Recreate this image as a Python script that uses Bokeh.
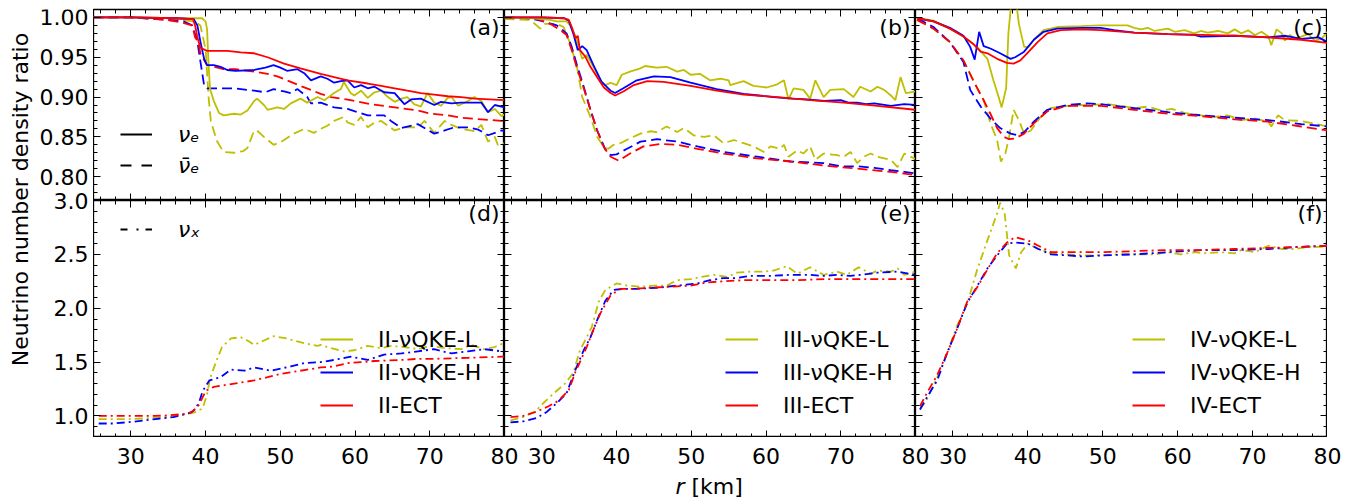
import math
from bokeh.plotting import figure
from bokeh.models import (Range1d, LinearAxis, FixedTicker, PrintfTickFormatter,
                          Legend, LegendItem, Label)
from bokeh.layouts import row, column
from bokeh.embed import file_html
from bokeh.resources import INLINE

FONT = "DejaVu Sans"
FS = "22px"
C_L, C_H, C_E = "#bfbf00", "#0000ff", "#ff0000"

# ---------------- axes / ticks ----------------
X_RANGE = (25, 80)
TOP_Y = (0.77, 1.01)
BOT_Y = (0.8, 3.0)
X_MAJOR = [30, 40, 50, 60, 70, 80]
X_MINOR = [26 + 2 * i for i in range(28)]
TOP_MAJOR = [0.80, 0.85, 0.90, 0.95, 1.00]
TOP_MINOR = [round(0.77 + 0.01 * i, 2) for i in range(25)]
BOT_MAJOR = [1.0, 1.5, 2.0, 2.5, 3.0]
BOT_MINOR = [round(0.8 + 0.1 * i, 1) for i in range(23)]

MODELS_II = ["II-\u03bdQKE-L", "II-\u03bdQKE-H", "II-ECT"]
MODELS_III = ["III-\u03bdQKE-L", "III-\u03bdQKE-H", "III-ECT"]
MODELS_IV = ["IV-\u03bdQKE-L", "IV-\u03bdQKE-H", "IV-ECT"]
PANEL_TAGS = ["(a)", "(b)", "(c)", "(d)", "(e)", "(f)"]

# ---------------- data: (r [km], ratio) ----------------
# panel (a): II, nu_e (solid) and anti-nu_e (dashed)
a_L_nue = [(25,1.0),(30,1.0),(36,0.999),(39.5,0.999),(40.0,0.995),(40.2,0.985),(40.4,0.94),(40.6,0.91),(41.1,0.895),(41.8,0.88),(42.4,0.877),(43.8,0.879),(44.7,0.878),(45.6,0.883),(46.5,0.895),(46.9,0.898),(47.8,0.89),(48.3,0.884),(49.6,0.887),(50.5,0.885),(51.4,0.892),(52.7,0.898),(53.6,0.893),(55.0,0.9),(55.9,0.896),(57.2,0.905),(58.1,0.91),(58.5,0.919),(59.4,0.905),(59.9,0.902),(60.8,0.908),(61.7,0.899),(62.6,0.906),(63.5,0.908),(64.4,0.9),(65.3,0.894),(66.2,0.898),(67.0,0.9),(67.9,0.891),(68.8,0.888),(69.7,0.905),(70.6,0.893),(71.5,0.889),(72.4,0.899),(72.9,0.9),(73.8,0.889),(75.1,0.895),(76.0,0.9),(76.9,0.895),(77.8,0.881),(78.7,0.885),(79.6,0.876),(80,0.878)]
a_H_nue = [(25,1.0),(30,1.0),(36,0.999),(38.4,0.998),(38.9,0.99),(39.3,0.97),(39.8,0.948),(40.2,0.94),(41.1,0.94),(42.0,0.938),(42.9,0.934),(44.0,0.933),(46.5,0.934),(48.0,0.937),(49.1,0.94),(50.0,0.937),(50.9,0.933),(52.3,0.935),(53.2,0.93),(54.1,0.921),(55.4,0.926),(56.3,0.923),(57.2,0.918),(58.1,0.92),(59.0,0.921),(59.9,0.912),(60.8,0.915),(61.7,0.911),(62.6,0.913),(63.9,0.906),(65.3,0.905),(66.6,0.891),(67.5,0.897),(68.8,0.898),(70.6,0.89),(71.5,0.894),(72.9,0.892),(74.2,0.893),(76.9,0.893),(77.8,0.881),(78.7,0.89),(79.6,0.888),(80,0.887)]
a_E_nue = [(25,1.0),(30,1.0),(36,0.999),(38.3,0.998),(38.6,0.99),(38.9,0.975),(39.3,0.962),(40.2,0.958),(42.9,0.958),(44.7,0.956),(46.5,0.955),(48.3,0.95),(50.5,0.942),(52.7,0.936),(55.4,0.929),(57.2,0.925),(59.0,0.921),(61.7,0.917),(63.5,0.914),(65.3,0.911),(67.0,0.908),(68.8,0.905),(70.6,0.903),(72.4,0.901),(74.2,0.9),(76.0,0.898),(78.0,0.897),(80,0.896)]
a_L_anue = [(25,1.0),(30,1.0),(36,0.998),(38.5,0.995),(39.3,0.99),(40.0,0.96),(40.4,0.9),(40.7,0.87),(41.5,0.845),(42.4,0.831),(43.8,0.83),(45.0,0.832),(45.6,0.836),(46.5,0.858),(47.0,0.857),(47.8,0.85),(49.1,0.84),(50.0,0.843),(50.5,0.846),(51.8,0.854),(53.2,0.86),(54.5,0.855),(55.4,0.86),(56.3,0.864),(57.2,0.87),(58.5,0.875),(59.0,0.868),(59.9,0.865),(60.8,0.875),(61.7,0.862),(62.6,0.868),(63.5,0.87),(65.3,0.858),(66.6,0.862),(68.4,0.862),(69.3,0.87),(70.6,0.855),(72.0,0.87),(72.9,0.865),(74.2,0.86),(76.0,0.857),(76.9,0.865),(77.8,0.844),(78.7,0.85),(79.1,0.84),(80,0.842)]
a_H_anue = [(25,1.0),(30,1.0),(34.8,0.997),(37.1,0.995),(38.2,0.99),(38.9,0.97),(39.3,0.945),(39.8,0.915),(40.2,0.911),(41.1,0.911),(43.8,0.911),(46.5,0.908),(48.0,0.906),(49.1,0.91),(50.5,0.907),(51.4,0.905),(52.3,0.91),(53.6,0.9),(54.1,0.892),(55.4,0.893),(57.2,0.887),(59.0,0.885),(60.0,0.882),(61.7,0.877),(63.9,0.877),(64.8,0.87),(66.2,0.861),(68.4,0.866),(70.6,0.854),(72.0,0.858),(73.3,0.862),(75.1,0.862),(76.5,0.859),(77.8,0.852),(79.6,0.858),(80,0.857)]
a_E_anue = [(25,1.0),(30,1.0),(34.8,0.997),(37.1,0.993),(38.2,0.99),(38.6,0.975),(39.0,0.97),(39.3,0.955),(40.2,0.94),(41.1,0.938),(42.4,0.935),(44.0,0.935),(46.5,0.932),(48.3,0.929),(49.6,0.926),(51.4,0.919),(52.7,0.914),(54.1,0.909),(55.4,0.904),(56.8,0.9),(59.4,0.896),(62.1,0.891),(64.5,0.888),(66.2,0.886),(68.4,0.883),(70.2,0.879),(72.4,0.877),(74.2,0.874),(76.9,0.872),(79.6,0.87),(80,0.87)]

# panel (b): III
b_L_nue = [(25,1.0),(29.0,0.999),(31.1,0.997),(32.0,0.995),(33.3,0.995),(33.8,0.99),(34.5,0.976),(35.4,0.948),(36.0,0.953),(36.9,0.938),(37.8,0.921),(38.5,0.915),(39.2,0.918),(40.0,0.915),(40.7,0.928),(41.8,0.932),(43.2,0.936),(43.8,0.939),(45.4,0.937),(46.7,0.938),(48.1,0.932),(49.0,0.934),(49.9,0.928),(51.2,0.929),(52.5,0.921),(53.9,0.923),(55.0,0.921),(55.2,0.915),(57.0,0.92),(58.3,0.914),(60.1,0.912),(61.5,0.916),(62.4,0.921),(63.0,0.897),(63.7,0.911),(65.0,0.909),(65.9,0.898),(66.6,0.921),(67.7,0.9),(68.6,0.909),(70.4,0.91),(71.7,0.9),(72.6,0.913),(74.0,0.907),(74.9,0.913),(75.8,0.909),(76.7,0.902),(77.3,0.896),(78.0,0.925),(78.7,0.905),(80,0.907)]
b_H_nue = [(25,1.0),(30,1.0),(33.0,0.999),(33.6,0.996),(34.2,0.98),(34.8,0.959),(35.4,0.964),(36.0,0.959),(36.9,0.94),(38.0,0.919),(39.2,0.908),(39.8,0.905),(40.9,0.911),(42.7,0.921),(45.0,0.926),(47.2,0.925),(49.9,0.918),(53.4,0.91),(57.0,0.904),(61.0,0.9),(63.5,0.898),(65.5,0.897),(67.8,0.895),(70.0,0.896),(71.0,0.893),(72.2,0.893),(73.4,0.891),(74.5,0.892),(76.7,0.889),(78.5,0.891),(80,0.89)]
b_E_nue = [(25,1.0),(30,1.0),(33.0,0.999),(33.6,0.997),(34.0,0.988),(34.5,0.974),(34.8,0.977),(35.1,0.959),(35.8,0.951),(36.5,0.938),(37.4,0.925),(38.3,0.912),(39.2,0.905),(39.8,0.902),(40.9,0.907),(42.3,0.915),(44.1,0.92),(46.3,0.919),(49.9,0.914),(53.4,0.908),(57.0,0.903),(61.5,0.9),(65.9,0.896),(70.4,0.893),(74.9,0.889),(80,0.884)]
b_L_anue = [(25,0.998),(28.4,0.997),(29.8,0.986),(30.4,0.992),(32.0,0.992),(32.9,0.988),(33.8,0.967),(34.7,0.938),(35.4,0.9),(36.5,0.875),(37.4,0.85),(38.3,0.837),(38.9,0.835),(39.6,0.84),(40.5,0.842),(41.8,0.848),(43.2,0.854),(44.5,0.857),(45.4,0.856),(46.7,0.863),(48.1,0.856),(49.0,0.861),(50.3,0.852),(51.7,0.85),(53.0,0.852),(54.3,0.842),(55.7,0.846),(57.0,0.842),(58.3,0.838),(59.7,0.831),(60.6,0.838),(61.9,0.835),(62.4,0.84),(63.0,0.825),(64.2,0.833),(65.0,0.829),(65.9,0.838),(66.6,0.821),(67.7,0.829),(69.5,0.827),(70.4,0.825),(71.3,0.831),(72.2,0.817),(73.1,0.825),(74.0,0.829),(74.9,0.825),(76.7,0.821),(77.6,0.812),(78.5,0.829),(80,0.822)]
b_H_anue = [(25,1.0),(28.4,0.999),(29.8,0.996),(32.0,0.99),(33.3,0.98),(34.0,0.963),(34.7,0.94),(35.6,0.913),(36.5,0.884),(37.4,0.858),(38.5,0.834),(39.2,0.827),(40.0,0.828),(41.4,0.835),(43.2,0.844),(45.4,0.847),(48.1,0.844),(50.8,0.838),(54.3,0.831),(58.8,0.825),(63.3,0.819),(67.7,0.817),(70.0,0.813),(72.2,0.813),(74.5,0.811),(76.7,0.808),(78.5,0.806),(80,0.804)]
b_E_anue = [(25,1.0),(28.4,0.999),(29.8,0.997),(31.1,0.992),(32.5,0.984),(33.3,0.978),(34.0,0.959),(34.7,0.936),(35.6,0.911),(36.5,0.884),(37.4,0.858),(38.3,0.837),(39.2,0.825),(40.3,0.82),(41.8,0.829),(43.6,0.838),(45.8,0.841),(48.1,0.84),(50.8,0.835),(54.3,0.829),(58.8,0.823),(63.3,0.819),(67.7,0.814),(72.2,0.81),(76.7,0.806),(80,0.802)]

# panel (c): IV
c_L_nue = [(25.2,0.999),(27.4,0.996),(29.6,0.986),(31.4,0.976),(33.2,0.963),(34.6,0.948),(35.4,0.921),(36.1,0.9),(36.5,0.887),(37.1,0.911),(37.4,0.98),(37.8,1.02),(38.3,1.03),(38.8,0.992),(39.5,0.963),(40.1,0.963),(40.8,0.972),(42.1,0.984),(43.9,0.988),(47.1,0.989),(49.7,0.99),(53.3,0.99),(54.2,0.987),(55.1,0.985),(56.0,0.987),(56.9,0.983),(58.7,0.986),(59.6,0.982),(60.9,0.984),(62.2,0.98),(63.1,0.983),(64.0,0.981),(65.4,0.983),(66.7,0.98),(67.6,0.985),(68.5,0.98),(69.4,0.984),(70.3,0.978),(71.2,0.982),(72.1,0.976),(72.5,0.965),(73.2,0.985),(73.9,0.98),(74.3,0.971),(75.0,0.978),(75.6,0.974),(76.5,0.976),(77.4,0.979),(78.3,0.971),(79.2,0.973),(80,0.982)]
c_H_nue = [(25.2,0.999),(27.4,0.995),(29.6,0.987),(31.4,0.977),(32.3,0.963),(32.9,0.947),(33.5,0.982),(34.1,0.964),(35.0,0.961),(36.3,0.955),(37.7,0.948),(38.3,0.95),(39.5,0.957),(40.8,0.972),(42.1,0.982),(43.9,0.986),(47.1,0.987),(49.7,0.987),(51.5,0.984),(54.2,0.981),(58.7,0.979),(62.2,0.978),(63.1,0.976),(67.6,0.977),(72.1,0.975),(74.4,0.977),(76.5,0.973),(78.8,0.975),(80,0.969)]
c_E_nue = [(25.2,0.999),(27.4,0.995),(29.6,0.986),(31.4,0.976),(32.8,0.966),(33.7,0.957),(34.6,0.955),(35.9,0.948),(37.2,0.943),(38.1,0.942),(39.0,0.946),(39.9,0.955),(41.3,0.969),(42.6,0.98),(44.4,0.984),(47.1,0.985),(49.7,0.984),(54.2,0.981),(58.7,0.979),(63.1,0.978),(67.6,0.977),(72.1,0.975),(76.5,0.972),(80,0.968)]
c_L_anue = [(25.2,0.997),(27.4,0.986),(29.6,0.969),(31.4,0.946),(32.8,0.919),(34.1,0.896),(35.0,0.867),(35.9,0.846),(36.4,0.819),(37.0,0.829),(37.5,0.85),(38.1,0.884),(38.8,0.871),(39.5,0.854),(40.4,0.858),(41.7,0.875),(43.0,0.886),(45.3,0.889),(47.9,0.89),(50.6,0.891),(52.4,0.889),(54.2,0.886),(56.0,0.888),(57.8,0.883),(59.2,0.885),(60.9,0.88),(63.1,0.877),(64.9,0.875),(66.7,0.877),(68.5,0.871),(70.3,0.873),(72.1,0.869),(72.5,0.863),(73.4,0.877),(74.3,0.871),(76.5,0.87),(80,0.863)]
c_H_anue = [(25.2,0.999),(27.4,0.988),(29.6,0.969),(31.4,0.944),(32.3,0.909),(33.7,0.888),(35.0,0.873),(36.3,0.861),(37.7,0.854),(38.6,0.852),(39.5,0.856),(40.8,0.869),(42.6,0.884),(45.3,0.89),(47.9,0.892),(49.7,0.891),(54.2,0.886),(58.7,0.881),(63.1,0.877),(67.6,0.874),(72.1,0.871),(76.5,0.866),(80,0.863)]
c_E_anue = [(25.2,0.997),(27.4,0.986),(29.6,0.969),(31.4,0.946),(32.8,0.919),(34.1,0.896),(35.0,0.879),(35.9,0.861),(36.8,0.85),(37.5,0.847),(38.3,0.848),(39.5,0.854),(40.8,0.867),(42.6,0.882),(45.3,0.889),(47.9,0.889),(49.7,0.889),(54.2,0.884),(58.7,0.879),(63.1,0.876),(67.6,0.872),(72.1,0.869),(76.5,0.863),(80,0.858)]

# panels (d)-(f): nu_x (dash-dot)
d_L_nux = [(25.7,0.97),(30,0.97),(35,0.99),(38.4,1.03),(39.6,1.07),(40.2,1.2),(40.6,1.35),(41.5,1.52),(42.2,1.64),(43.4,1.72),(44.7,1.73),(45.6,1.7),(46.5,1.66),(47.8,1.7),(49.1,1.74),(50.9,1.72),(51.8,1.7),(53.6,1.67),(55.0,1.65),(55.4,1.66),(56.8,1.63),(58.5,1.6),(59.9,1.61),(61.7,1.65),(63.5,1.63),(64.8,1.65),(66.6,1.64),(68.4,1.62),(70.0,1.65),(72.0,1.63),(74.2,1.62),(75.5,1.66),(77.3,1.62),(78.7,1.64),(80,1.68)]
d_H_nux = [(25.7,0.93),(27.7,0.93),(30.4,0.947),(33.0,0.969),(35.7,0.99),(38.0,1.03),(38.4,1.05),(39.1,1.12),(39.6,1.23),(40.5,1.33),(42.0,1.36),(43.4,1.43),(45.2,1.42),(46.5,1.45),(48.7,1.42),(51.4,1.46),(53.2,1.49),(55.4,1.5),(57.2,1.52),(59.4,1.55),(61.7,1.52),(63.9,1.57),(66.2,1.58),(68.4,1.6),(70.6,1.62),(72.9,1.58),(75.1,1.6),(77.3,1.62),(79.6,1.6),(80,1.6)]
d_E_nux = [(25.7,1.0),(27.7,1.0),(30,1.0),(33.2,1.0),(35.0,1.005),(37.5,1.02),(38.2,1.04),(38.9,1.08),(39.3,1.13),(39.8,1.2),(40.2,1.24),(41.1,1.27),(42.9,1.29),(44.7,1.31),(46.5,1.33),(48.3,1.36),(50.0,1.39),(51.8,1.41),(53.6,1.43),(55.4,1.45),(57.2,1.46),(59.0,1.49),(60.8,1.5),(62.6,1.51),(66.2,1.52),(68.4,1.53),(70.6,1.53),(75.1,1.54),(79.6,1.55),(80,1.55)]
e_L_nux = [(25.8,0.96),(27.5,0.99),(29.1,1.04),(30.2,1.12),(31.6,1.21),(33.1,1.3),(34.2,1.4),(35.1,1.61),(36.0,1.73),(36.7,1.83),(37.6,2.06),(38.5,2.17),(40.0,2.23),(41.4,2.21),(43.2,2.2),(45.0,2.21),(46.7,2.21),(48.1,2.26),(49.9,2.27),(51.2,2.29),(53.0,2.31),(54.8,2.29),(56.1,2.33),(57.9,2.34),(59.7,2.34),(61.0,2.35),(62.8,2.39),(64.2,2.32),(65.9,2.38),(67.7,2.31),(69.5,2.34),(70.8,2.31),(72.4,2.38),(74.0,2.32),(74.9,2.35),(76.7,2.34),(77.6,2.37),(78.5,2.31),(80,2.34)]
e_H_nux = [(25.8,0.94),(27.5,0.95),(29.3,0.98),(30.7,1.04),(32.0,1.12),(33.3,1.21),(34.5,1.43),(35.6,1.61),(36.5,1.73),(37.4,1.89),(38.5,2.07),(39.6,2.17),(40.9,2.18),(42.7,2.18),(45.4,2.19),(48.1,2.21),(50.8,2.23),(52.5,2.26),(54.3,2.28),(56.1,2.28),(57.9,2.3),(60.6,2.3),(63.3,2.31),(65.9,2.31),(67.7,2.3),(69.5,2.31),(71.3,2.3),(72.6,2.31),(74.9,2.33),(77.6,2.34),(80,2.31)]
e_E_nux = [(25.8,0.99),(27.5,1.0),(29.3,1.04),(30.9,1.09),(32.2,1.14),(33.6,1.24),(34.5,1.41),(36.0,1.64),(36.9,1.8),(37.8,1.95),(39.2,2.12),(40.5,2.18),(42.3,2.18),(44.5,2.19),(47.2,2.2),(49.9,2.21),(52.1,2.24),(54.3,2.25),(57.0,2.26),(60.6,2.26),(64.2,2.26),(67.7,2.27),(72.2,2.27),(76.7,2.27),(80,2.27)]
f_L_nux = [(25.6,1.06),(26.5,1.15),(27.9,1.36),(29.2,1.58),(30.5,1.83),(31.9,2.04),(33.2,2.35),(34.6,2.63),(35.9,2.88),(36.3,2.98),(36.9,2.88),(37.5,2.49),(38.4,2.37),(39.1,2.52),(40.0,2.6),(41.4,2.55),(43.1,2.51),(45.3,2.5),(47.5,2.49),(49.7,2.49),(52.0,2.5),(54.2,2.5),(56.9,2.5),(58.7,2.52),(60.4,2.5),(62.2,2.52),(63.5,2.51),(65.8,2.52),(67.6,2.51),(68.5,2.54),(70.3,2.52),(72.1,2.58),(73.9,2.55),(75.7,2.55),(77.4,2.57),(79.2,2.57),(80,2.58)]
f_H_nux = [(25.6,1.06),(26.5,1.17),(27.9,1.33),(29.2,1.58),(30.5,1.8),(31.9,2.05),(33.2,2.2),(34.6,2.37),(35.9,2.49),(37.2,2.6),(38.3,2.61),(40.0,2.6),(41.4,2.55),(43.1,2.5),(45.3,2.49),(47.5,2.48),(49.7,2.49),(54.2,2.5),(58.7,2.52),(63.1,2.54),(67.6,2.54),(72.1,2.55),(76.5,2.57),(80,2.58)]
f_E_nux = [(25.6,1.09),(26.5,1.21),(27.9,1.38),(29.2,1.58),(30.5,1.8),(31.9,2.06),(33.2,2.19),(34.6,2.36),(35.9,2.51),(37.2,2.61),(38.3,2.66),(40.0,2.63),(41.4,2.58),(43.1,2.52),(45.3,2.52),(47.5,2.52),(49.7,2.52),(54.2,2.53),(58.7,2.54),(63.1,2.54),(67.6,2.55),(72.1,2.56),(76.5,2.57),(80,2.58)]

# ---------------- layout sizes ----------------
PW = [411, 411, 412]          # frame widths of the three columns
TOP_H, BOT_H = 191, 237       # frame heights of the two rows
TOP_PAD = 9
LEFT_W, STRIP_H, RIGHT_PAD = 93, 62, 24
LW = 1.8
DASH, DASHDOT = "10 5", "8 4 2 4"
NAN = [float("nan")]


def xs(pts):
    return [q[0] for q in pts]


def ys(pts):
    return [q[1] for q in pts]


def tick_style(ax):
    ax.axis_line_color = None
    ax.major_tick_in = 7
    ax.major_tick_out = 0
    ax.minor_tick_in = 4
    ax.minor_tick_out = 0
    ax.major_tick_line_color = "black"
    ax.minor_tick_line_color = "black"
    ax.major_tick_line_width = 1
    ax.minor_tick_line_width = 1
    ax.major_label_text_color = None


def panel(fw, fh, yr, ymaj, ymin, top_border):
    p = figure(x_range=Range1d(*X_RANGE), y_range=Range1d(*yr),
               frame_width=fw, frame_height=fh,
               min_border_left=0, min_border_right=0,
               min_border_top=top_border, min_border_bottom=0,
               x_axis_location=None, y_axis_location=None,
               toolbar_location=None, output_backend="svg", title=None)
    p.grid.visible = False
    p.outline_line_color = "black"
    p.outline_line_width = 1.3
    for side, loc in (("left", X_RANGE[0]), ("right", X_RANGE[1])):
        ax = LinearAxis(ticker=FixedTicker(ticks=ymaj, minor_ticks=ymin), fixed_location=loc)
        tick_style(ax)
        p.add_layout(ax, side)
    for side, loc in (("below", yr[0]), ("above", yr[1])):
        ax = LinearAxis(ticker=FixedTicker(ticks=X_MAJOR, minor_ticks=X_MINOR), fixed_location=loc)
        tick_style(ax)
        p.add_layout(ax, side)
    return p


def tag(p, text, fw, fh, dy):
    p.add_layout(Label(x=fw - 5, y=fh - dy, x_units="screen", y_units="screen", text=text,
                       text_align="right", text_baseline="top",
                       text_font=FONT, text_font_size=FS, text_color="black"))


def legend(p, items, loc, standoff, gw, dy):
    lg = Legend(items=items, location=loc, padding=0, margin=0, spacing=dy,
                glyph_width=gw, glyph_height=26, label_height=26, label_standoff=standoff,
                border_line_color=None, background_fill_alpha=0,
                label_text_font=FONT, label_text_font_size=FS, label_text_color="black")
    p.add_layout(lg)
    return lg


tops = []
bots = []
top_sets = [(a_L_nue, a_H_nue, a_E_nue, a_L_anue, a_H_anue, a_E_anue),
            (b_L_nue, b_H_nue, b_E_nue, b_L_anue, b_H_anue, b_E_anue),
            (c_L_nue, c_H_nue, c_E_nue, c_L_anue, c_H_anue, c_E_anue)]
bot_sets = [(d_L_nux, d_H_nux, d_E_nux), (e_L_nux, e_H_nux, e_E_nux), (f_L_nux, f_H_nux, f_E_nux)]
model_names = [MODELS_II, MODELS_III, MODELS_IV]
leg_x = [227, 221, 217]
colors = [C_L, C_H, C_E]

for k in range(3):
    p = panel(PW[k], TOP_H, TOP_Y, TOP_MAJOR, TOP_MINOR, TOP_PAD)
    s = top_sets[k]
    for i in range(3):
        p.line(xs(s[3 + i]), ys(s[3 + i]), line_color=colors[i], line_width=LW, line_dash=DASH)
    for i in range(3):
        p.line(xs(s[i]), ys(s[i]), line_color=colors[i], line_width=LW)
    tag(p, PANEL_TAGS[k], PW[k], TOP_H, 5)
    tops.append(p)

    q = panel(PW[k], BOT_H, BOT_Y, BOT_MAJOR, BOT_MINOR, 0)
    sb = bot_sets[k]
    for i in range(3):
        q.line(xs(sb[i]), ys(sb[i]), line_color=colors[i], line_width=LW, line_dash=DASHDOT)
    # legend keys (solid model colours, no data points)
    keys = [q.line(NAN, NAN, line_color=colors[i], line_width=2.2) for i in range(3)]
    legend(q, [LegendItem(label=model_names[k][i], renderers=[keys[i]]) for i in range(3)],
           (leg_x[k], 19), 25, 33, 7)
    tag(q, PANEL_TAGS[3 + k], PW[k], BOT_H, 0)
    bots.append(q)

# species keys in (a) and (d)
pa, pd = tops[0], bots[0]
k1 = pa.line(NAN, NAN, line_color="black", line_width=2)
k2 = pa.line(NAN, NAN, line_color="black", line_width=2, line_dash="11 10")
la = legend(pa, [LegendItem(label="\u03bd\u2091", renderers=[k1]),
                 LegendItem(label="\u03bd\u0304\u2091", renderers=[k2])], (27, 22), 26, 32, 5)
la.label_text_font_style = "italic"
k3 = pd.line(NAN, NAN, line_color="black", line_width=2, line_dash="7 9 2 7")
ld = legend(pd, [LegendItem(label="\u03bd\u2093", renderers=[k3])], (27, 195), 26, 32, 5)
ld.label_text_font_style = "italic"

# ---------------- left strip: y tick labels + y label ----------------
FULL_H = TOP_H + BOT_H
top_lo = TOP_Y[1] - FULL_H * (TOP_Y[1] - TOP_Y[0]) / TOP_H
bot_hi = BOT_Y[0] + FULL_H * (BOT_Y[1] - BOT_Y[0]) / BOT_H
lf = figure(x_range=Range1d(0, 1), y_range=Range1d(0, 1), frame_width=LEFT_W, frame_height=FULL_H,
            min_border_left=0, min_border_right=0, min_border_top=TOP_PAD, min_border_bottom=STRIP_H,
            x_axis_location=None, y_axis_location=None, toolbar_location=None,
            output_backend="svg", title=None)
lf.grid.visible = False
lf.outline_line_color = None
lf.extra_y_ranges = {"top": Range1d(top_lo, TOP_Y[1]), "bot": Range1d(BOT_Y[0], bot_hi)}
for name, ticks, fmt in (("top", TOP_MAJOR, "%.2f"), ("bot", BOT_MAJOR, "%.1f")):
    ax = LinearAxis(y_range_name=name, ticker=FixedTicker(ticks=ticks),
                    formatter=PrintfTickFormatter(format=fmt), fixed_location=1)
    ax.axis_line_color = None
    ax.major_tick_in = 0
    ax.major_tick_out = 0
    ax.minor_tick_in = 0
    ax.minor_tick_out = 0
    ax.major_label_standoff = 5
    ax.major_label_text_font = FONT
    ax.major_label_text_font_size = FS
    ax.major_label_text_color = "black"
    lf.add_layout(ax, "left")
lf.add_layout(Label(x=20, y=238, x_units="screen", y_units="screen",
                    text="Neutrino number density ratio", angle=math.pi / 2,
                    text_align="center", text_baseline="middle",
                    text_font=FONT, text_font_size=FS, text_color="black"))

# ---------------- bottom strip: x tick labels + x label ----------------
TOT_W = sum(PW)
STRIP_W = TOT_W + RIGHT_PAD
offs = [0, PW[0], PW[0] + PW[1]]
sf = figure(x_range=Range1d(0, 1), y_range=Range1d(0, 1), frame_width=STRIP_W, frame_height=STRIP_H,
            min_border_left=0, min_border_right=0, min_border_top=0, min_border_bottom=0,
            x_axis_location=None, y_axis_location=None, toolbar_location=None,
            output_backend="svg", title=None)
sf.grid.visible = False
sf.outline_line_color = None
span = X_RANGE[1] - X_RANGE[0]
extra = {}
for k, nm in enumerate(["d", "e", "f"]):
    u = span / PW[k]
    extra[nm] = Range1d(X_RANGE[0] - offs[k] * u, X_RANGE[0] + (STRIP_W - offs[k]) * u)
sf.extra_x_ranges = extra
for nm in ["d", "e", "f"]:
    ax = LinearAxis(x_range_name=nm, ticker=FixedTicker(ticks=X_MAJOR),
                    formatter=PrintfTickFormatter(format="%d"), fixed_location=1)
    ax.axis_line_color = None
    ax.major_tick_in = 0
    ax.major_tick_out = 0
    ax.minor_tick_in = 0
    ax.minor_tick_out = 0
    ax.major_label_standoff = 10
    ax.major_label_text_font = FONT
    ax.major_label_text_font_size = FS
    ax.major_label_text_color = "black"
    sf.add_layout(ax, "below")
sf.add_layout(Label(x=582, y=13, x_units="screen", y_units="screen", text="r",
                    text_font_style="italic", text_align="left", text_baseline="middle",
                    text_font=FONT, text_font_size=FS, text_color="black"))
sf.add_layout(Label(x=598, y=13, x_units="screen", y_units="screen", text="[km]",
                    text_align="left", text_baseline="middle",
                    text_font=FONT, text_font_size=FS, text_color="black"))

layout = row(lf, column(row(*tops), row(*bots), sf))
open("out.html", "w").write(file_html(layout, INLINE))
